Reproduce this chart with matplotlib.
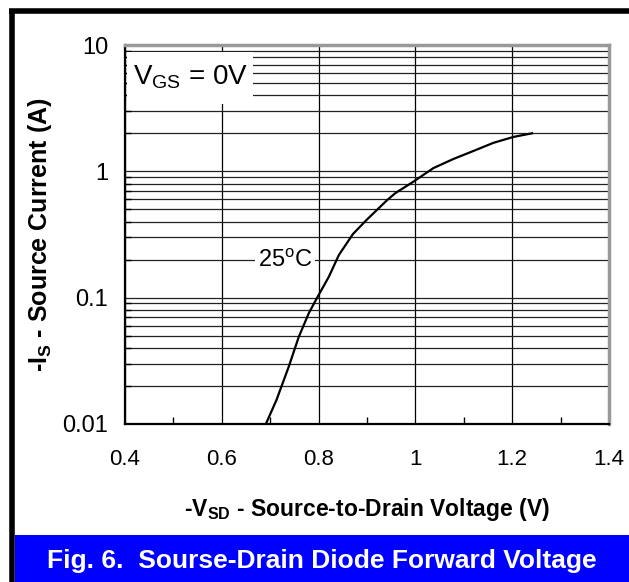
import matplotlib
matplotlib.use('Agg')
import matplotlib.pyplot as plt
from matplotlib.patches import Rectangle
from matplotlib.lines import Line2D

plt.rcParams['font.family'] = ['Liberation Sans', 'DejaVu Sans']
plt.rcParams['mathtext.fontset'] = 'custom'
plt.rcParams['mathtext.rm'] = 'Liberation Sans'

# curve (25 C)
vsd = [0.691, 0.713, 0.738, 0.759, 0.780, 0.797, 0.821, 0.842, 0.871, 0.899,
       0.942, 0.959, 0.995, 1.037, 1.078, 1.120, 1.161, 1.202, 1.241]
i_s = [0.01, 0.0155, 0.0282, 0.0489, 0.0757, 0.1, 0.146, 0.218, 0.319, 0.412,
       0.594, 0.674, 0.824, 1.06, 1.25, 1.45, 1.68, 1.87, 2.0]

x_ticks = [0.4, 0.6, 0.8, 1.0, 1.2, 1.4]
x_labels = ['0.4', '0.6', '0.8', '1', '1.2', '1.4']
x_minor = [0.5, 0.7, 0.9, 1.1, 1.3]
y_ticks = [0.01, 0.1, 1, 10]
y_labels = ['0.01', '0.1', '1', '10']

fig = plt.figure(figsize=(6.29, 5.82), dpi=100)
ax = fig.add_axes([125/629, 1-424/582, 484/629, 379/582])

ax.set_yscale('log')
ax.set_xlim(0.4, 1.4)
ax.set_ylim(0.01, 10)

ax.plot(vsd, i_s, color='black', lw=1.6, zorder=3)

ax.set_xticks(x_ticks)
ax.set_xticklabels(x_labels)
ax.set_xticks(x_minor, minor=True)
ax.set_yticks(y_ticks)
ax.set_yticklabels(y_labels)

ax.grid(True, which='major', axis='x', color='black', lw=0.9)
ax.grid(True, which='both', axis='y', color='#222222', lw=0.9)
ax.tick_params(axis='x', which='major', length=0, pad=18, labelsize=16)
ax.tick_params(axis='x', which='minor', direction='in', length=5, width=1)
ax.tick_params(axis='y', which='major', length=0, pad=12, labelsize=17)
ax.tick_params(axis='y', which='minor', direction='in', length=4, width=1, labelleft=False)

for s in ['left', 'bottom']:
    ax.spines[s].set_color('black')
    ax.spines[s].set_linewidth(1.6)
for s in ['top', 'right']:
    ax.spines[s].set_color('#999999')
    ax.spines[s].set_linewidth(2.5)

ax.set_xlabel(r'-V$\mathregular{_{SD}}$ - Source-to-Drain Voltage (V)',
              fontsize=16.5, fontweight='bold')
ax.xaxis.set_label_coords(0.5, -0.19)
ax.set_ylabel(r'-I$\mathregular{_S}$ - Source Current (A)',
              fontsize=18, fontweight='bold', va='center')
ax.yaxis.set_label_coords(-0.176, 0.5)

# white box behind the V_GS note
ax.add_patch(Rectangle((0.004, 0.845), 0.26, 0.137, transform=ax.transAxes,
                       facecolor='white', edgecolor='none', zorder=2.5))
ax.text(0.017, 0.915, r'V$\mathregular{_{GS}}$ = 0V', transform=ax.transAxes,
        fontsize=20, ha='left', va='center', zorder=4)
ax.text(0.731, 0.195, r'25$\mathregular{^o}$C', fontsize=17, ha='center', va='center',
        zorder=4, bbox=dict(facecolor='white', edgecolor='none', pad=2))

# frame and caption banner
fig.add_artist(Rectangle((15/629, 0), 1, 47/582, transform=fig.transFigure,
                         facecolor='#0000ff', edgecolor='none'))
fig.add_artist(Line2D([11.5/629, 11.5/629], [0, 1-10.5/582], transform=fig.transFigure,
                      color='black', lw=4, solid_capstyle='butt'))
fig.add_artist(Line2D([9/629, 1], [1-10.5/582, 1-10.5/582], transform=fig.transFigure,
                      color='black', lw=4, solid_capstyle='butt'))
fig.text(322/629, 1-561/582, 'Fig. 6.  Sourse-Drain Diode Forward Voltage',
         color='white', fontsize=19, fontweight='bold', ha='center', va='center')

fig.savefig('out.png', dpi=100)
